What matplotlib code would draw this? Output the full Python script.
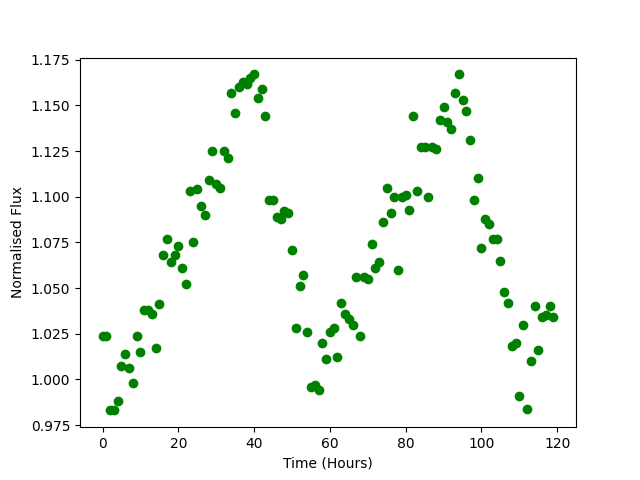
"""Normalised flux over time"""
import matplotlib
matplotlib.use('Agg')
import matplotlib.pyplot as plt

import numpy as np

# Time in hours
time_hours = list(range(120))

# Normalised flux per hour
flux = [
    1.0235, 1.0235, 0.983, 0.983, 0.988, 1.0075, 1.014, 1.006, 0.998, 1.0235,
    1.015, 1.038, 1.038, 1.036, 1.017, 1.041, 1.068, 1.077, 1.064, 1.068,
    1.073, 1.061, 1.052, 1.103, 1.075, 1.104, 1.095, 1.090, 1.109, 1.125,
    1.107, 1.105, 1.125, 1.121, 1.157, 1.146, 1.160, 1.163, 1.162, 1.165,
    1.167, 1.154, 1.159, 1.144, 1.098, 1.098, 1.089, 1.088, 1.092, 1.091,
    1.071, 1.028, 1.051, 1.057, 1.026, 0.996, 0.997, 0.994, 1.020, 1.011,
    1.026, 1.028, 1.012, 1.042, 1.036, 1.033, 1.030, 1.056, 1.024, 1.056,
    1.055, 1.074, 1.061, 1.064, 1.086, 1.105, 1.091, 1.100, 1.060, 1.100,
    1.101, 1.093, 1.144, 1.103, 1.127, 1.127, 1.100, 1.127, 1.126, 1.142,
    1.149, 1.141, 1.137, 1.157, 1.167, 1.153, 1.147, 1.131, 1.098, 1.110,
    1.072, 1.088, 1.085, 1.077, 1.077, 1.065, 1.048, 1.042, 1.018, 1.020,
    0.991, 1.030, 0.984, 1.010, 1.040, 1.016, 1.034, 1.035, 1.040, 1.034,
]

plt.figure(figsize=[6.4, 4.8], dpi=100)
plt.plot(np.array(time_hours), np.array(flux), 'go')
plt.xlabel('Time (Hours)')
plt.ylabel('Normalised Flux')
plt.savefig('out.png')
